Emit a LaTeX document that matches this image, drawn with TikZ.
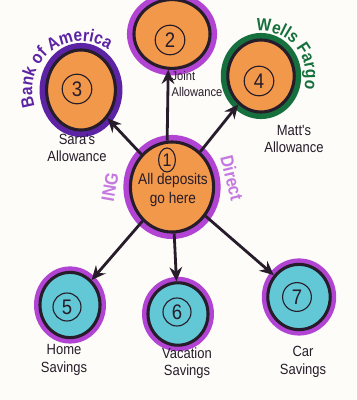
\documentclass[tikz,border=0pt]{standalone}
\usepackage{fontspec}
\newfontfamily\hand{Liberation Sans}[FakeStretch=0.88]
\usetikzlibrary{shapes.geometric, arrows.meta, decorations.text}
\definecolor{paper}{RGB}{253,252,248}
\definecolor{ink}{RGB}{38,28,42}
\definecolor{peach}{RGB}{242,152,74}
\definecolor{aqua}{RGB}{98,200,214}
\definecolor{orchid}{RGB}{178,68,212}
\definecolor{boapurple}{RGB}{92,36,164}
\definecolor{wfgreen}{RGB}{22,112,62}
\definecolor{inglilac}{RGB}{196,120,224}

\begin{document}
\begin{tikzpicture}[
  x=0.025cm, y=0.025cm,
  font=\hand\fontsize{10.5}{12.5}\selectfont,
  >=Stealth,
  %--- account ellipses, halo colour as argument ---
  checking/.style={
    ellipse, draw=ink, fill=peach,
    inner sep=0pt, line width=2.2pt,
    preaction={draw=#1, line width=10pt}
  },
  savings/.style={
    ellipse, draw=ink, fill=aqua,
    inner sep=0pt, line width=2.2pt,
    preaction={draw=#1, line width=8.5pt}
  },
  ring/.style={
    circle, draw=ink, line width=0.8pt,
    minimum size=0.74cm, inner sep=0pt, text=ink,
    font=\hand\fontsize{15}{15}\selectfont
  },
  %--- arrow and text styles ---
  arr/.style={
    -{Stealth[length=10pt, width=9pt]},
    draw=ink, line width=2pt
  },
  lbl/.style={
    text=ink, align=center, inner sep=0pt
  },
  bank/.style={
    font=\hand\bfseries\fontsize{13}{13}\selectfont, inner sep=0pt
  }
]

%------------------------------------------------------------------
%  Paper
%------------------------------------------------------------------
\fill[paper] (0,0) rectangle (356,400);
\useasboundingbox (0,0) rectangle (356,400);

%------------------------------------------------------------------
%  Accounts
%------------------------------------------------------------------
\node[checking=orchid, minimum width=2.08cm, minimum height=2.25cm] (n1) at (172,213) {};
\node[checking=orchid, minimum width=1.9cm, minimum height=1.72cm]  (n2) at (172,366) {};
\node[checking=boapurple, minimum width=1.72cm, minimum height=2.0cm] (n3) at (81,310) {};
\node[checking=wfgreen, minimum width=1.66cm, minimum height=1.8cm] (n4) at (261,324) {};
\node[savings=orchid, minimum width=1.5cm, minimum height=1.63cm]   (n5) at (70,95) {};
\node[savings=orchid, minimum width=1.5cm, minimum height=1.56cm]   (n6) at (178,86) {};
\node[savings=orchid, minimum width=1.56cm, minimum height=1.63cm]  (n7) at (299,103) {};

%------------------------------------------------------------------
%  Circled numbers
%------------------------------------------------------------------
\node[ring, ellipse, minimum width=0.42cm, minimum height=0.6cm,
      font=\hand\fontsize{13}{13}\selectfont] (r1) at (167,240) {1};
\node[ring] (r2) at (170,360) {2};
\node[ring] (r3) at (77,311)  {3};
\node[ring] (r4) at (259,319) {4};
\node[ring, minimum size=0.7cm] (r5) at (67,93)  {5};
\node[ring, minimum size=0.7cm] (r6) at (177,88) {6};
\node[ring, minimum size=0.72cm] (r7) at (297,103) {7};

\node[lbl, font=\hand\fontsize{11}{13}\selectfont] (all) at (173,210) {All deposits\\go here};

%------------------------------------------------------------------
%  Transfers out of the main account
%------------------------------------------------------------------
\draw[arr] (n1.96) -- (n2.264);
\draw[arr] (n1) -- (n3);
\draw[arr] (n1) -- (n4);
\draw[arr] (n1) -- (n5);
\draw[arr] (n1) -- (n6);
\draw[arr] (n1) -- (n7);

%------------------------------------------------------------------
%  Account names
%------------------------------------------------------------------
\node[lbl, align=left, font=\hand\fontsize{9}{11}\selectfont] (joint) at (197,316) {Joint\\Allowance};
\node[lbl] (sara)  at (77,252)  {Sara's\\Allowance};
\node[lbl] (matt)  at (294,261) {Matt's\\Allowance};
\node[lbl] (home)  at (64,40)   {Home\\Savings};
\node[lbl] (vac)   at (187,37)  {Vacation\\Savings};
\node[lbl] (car)   at (303,38)  {Car\\Savings};

%------------------------------------------------------------------
%  Banks
%------------------------------------------------------------------
\path[decorate, decoration={text along path, text align=center,
      text color=boapurple,
      text={|\hand\bfseries\fontsize{12.5}{13}\selectfont|Bank of America}}]
  (n3.center) ++(205:1.22cm) arc[start angle=205, end angle=50, radius=1.22cm];

\path[decorate, decoration={text along path, text align=center,
      text color=wfgreen,
      text={|\hand\bfseries\fontsize{12.5}{13}\selectfont|Wells Fargo}}]
  (n4.center) ++(112:1.12cm) arc[start angle=112, end angle=-32, radius=1.12cm];

\node[bank, text=inglilac, rotate=80]  (ing)    at (110,213) {ING};
\node[bank, text=inglilac, rotate=-76] (direct) at (232,222) {Direct};

\end{tikzpicture}
\end{document}
